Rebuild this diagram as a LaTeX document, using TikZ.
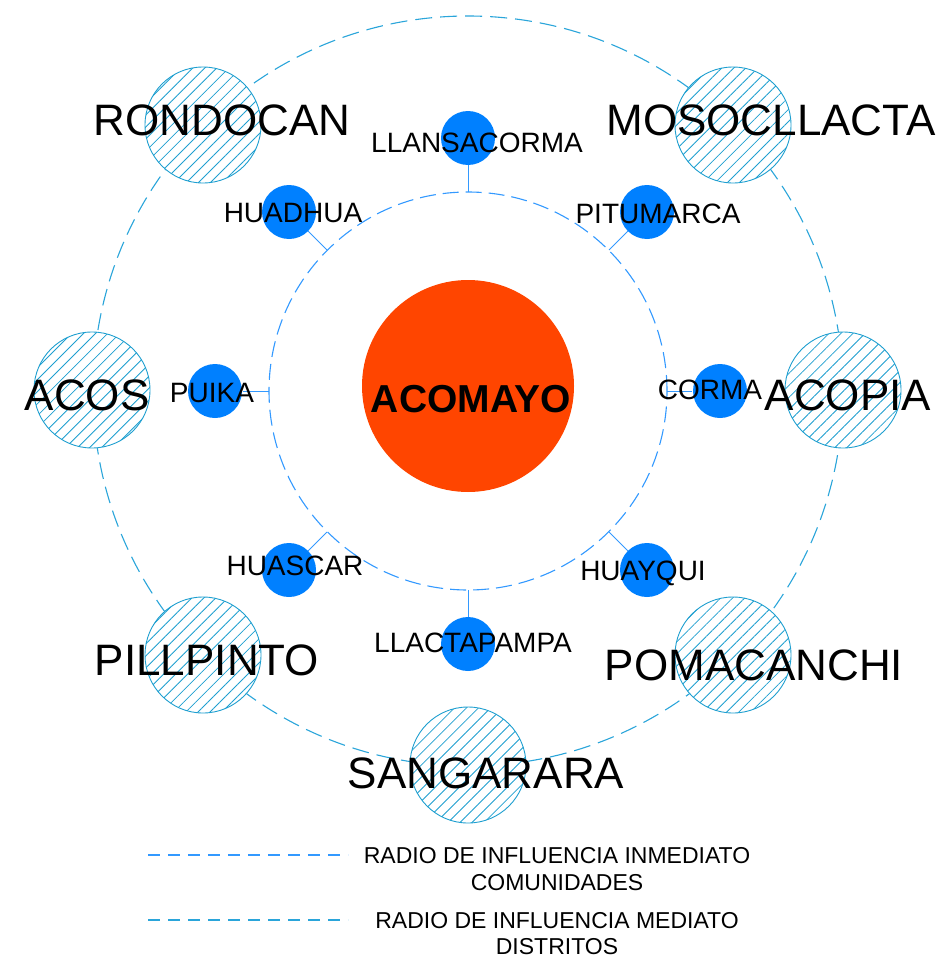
\documentclass[tikz,border=0pt]{standalone}
\usepackage{fontspec}
\setmainfont{Liberation Sans}
\usetikzlibrary{patterns.meta}
\definecolor{blu}{HTML}{0080FF}
\definecolor{org}{HTML}{FF4500}
\definecolor{hatch}{HTML}{1E9FD0}
\definecolor{innerc}{HTML}{3399FF}
\definecolor{outerc}{HTML}{2AA5DA}
\begin{document}
\begin{tikzpicture}[x=1pt,y=-1pt,
  district/.style={circle,draw=hatch,line width=0.9pt,fill=white,minimum size=116pt,inner sep=0pt,
    postaction={pattern={Lines[angle=45,distance=8.5pt,line width=0.85pt]},pattern color=hatch}},
  comm/.style={circle,fill=blu,minimum size=54pt,inner sep=0pt},
  dlabel/.style={font=\fontsize{44}{48}\selectfont,inner sep=0pt,text height=31.5pt,text depth=0pt},
  clabel/.style={font=\fontsize{28}{32}\selectfont,inner sep=0pt,text height=20pt,text depth=0pt},
  llabel/.style={font=\fontsize{23}{26}\selectfont,inner sep=0pt,text height=16.5pt,text depth=0pt},
  conn/.style={draw=innerc,line width=1pt},
  innerring/.style={draw=innerc,line width=1.1pt,dash pattern=on 16pt off 7pt},
  outerring/.style={draw=outerc,line width=1.1pt,dash pattern=on 17pt off 8pt},
  leg1/.style={draw=innerc,line width=1.1pt,dash pattern=on 12pt off 8pt},
  leg2/.style={draw=outerc,line width=1.1pt,dash pattern=on 12pt off 8pt}]
\useasboundingbox (0,0) rectangle (942,958);

% rings
\coordinate (c) at (468,391);
\draw[outerring] (c) circle[radius=375pt];
\draw[innerring] (c) circle[radius=199pt];

% central node
\node[circle,fill=org,minimum size=212pt,inner sep=0pt] (acomayo) at (468,386) {};
\node[font=\bfseries\fontsize{39}{42}\selectfont,inner sep=0pt,text height=28pt,text depth=0pt] (acomayot) at (471,398) {ACOMAYO};

% districts
\node[district] (rondocan) at (203,125) {};
\node[district] (mosocllacta) at (733,125) {};
\node[district] (acos) at (92,390) {};
\node[district] (acopia) at (843,390) {};
\node[district] (pillpinto) at (203,655) {};
\node[district] (pomacanchi) at (733,655) {};
\node[district] (sangarara) at (468,765) {};

% inner ring anchor points
\coordinate (i1) at (468,192);
\coordinate (i2) at (327,250);
\coordinate (i3) at (609,250);
\coordinate (i4) at (269,391);
\coordinate (i5) at (667,391);
\coordinate (i6) at (327,532);
\coordinate (i7) at (609,532);
\coordinate (i8) at (468,590);

% communities
\node[comm] (llansacorma) at (468,138) {};
\node[comm] (huadhua) at (289,212) {};
\node[comm] (pitumarca) at (647,212) {};
\node[comm] (puika) at (215,391) {};
\node[comm] (corma) at (720,391) {};
\node[comm] (huascar) at (289,570) {};
\node[comm] (huayqui) at (647,570) {};
\node[comm] (llactapampa) at (468,644) {};

\draw[conn] (llansacorma) -- (i1);
\draw[conn] (huadhua) -- (i2);
\draw[conn] (pitumarca) -- (i3);
\draw[conn] (puika.center) ++(28,0) -- (i4);
\draw[conn] (corma.center) ++(-28,0) -- (i5);
\draw[conn] (huascar) -- (i6);
\draw[conn] (huayqui) -- (i7);
\draw[conn] (llactapampa) -- (i8);

% district labels
\node[dlabel] (t1) at (222,120) {RONDOCAN};
\node[dlabel] (t2) at (771,120) {MOSOCLLACTA};
\node[dlabel] (t3) at (87,395) {ACOS};
\node[dlabel] (t4) at (848,395) {ACOPIA};
\node[dlabel] (t5) at (207,660) {PILLPINTO};
\node[dlabel] (t6) at (754,665) {POMACANCHI};
\node[dlabel] (t7) at (486,773) {SANGARARA};

% community labels
\node[clabel] (u1) at (477,142) {LLANSACORMA};
\node[clabel] (u2) at (293,212) {HUADHUA};
\node[clabel] (u3) at (658,213) {PITUMARCA};
\node[clabel] (u4) at (212,392) {PUIKA};
\node[clabel] (u5) at (710,389) {CORMA};
\node[clabel] (u6) at (295,565) {HUASCAR};
\node[clabel] (u7) at (643,570) {HUAYQUI};
\node[clabel] (u8) at (473,642) {LLACTAPAMPA};

% legend
\coordinate (la) at (148,855);
\coordinate (lb) at (348,855);
\coordinate (lc) at (148,920);
\coordinate (ld) at (348,920);
\draw[leg1] (la) -- (lb);
\draw[leg2] (lc) -- (ld);
\node[llabel] (l1) at (557,855) {RADIO DE INFLUENCIA INMEDIATO};
\node[llabel] (l2) at (557,882) {COMUNIDADES};
\node[llabel] (l3) at (557,920) {RADIO DE INFLUENCIA MEDIATO};
\node[llabel] (l4) at (557,946) {DISTRITOS};
\end{tikzpicture}
\end{document}
